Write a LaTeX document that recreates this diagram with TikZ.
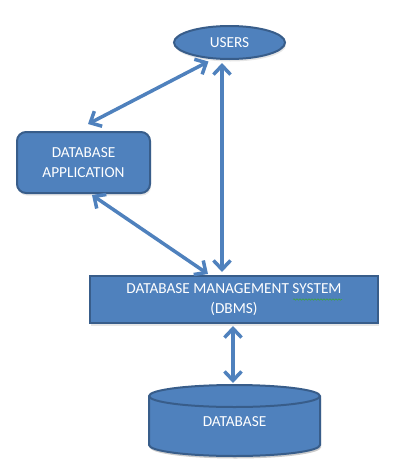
\documentclass[tikz,border=0pt]{standalone}
\usepackage{fontspec}
\setmainfont{Carlito}
\usetikzlibrary{arrows.meta,shapes.geometric,shadows,decorations.pathmorphing}
\definecolor{ofblue}{HTML}{4F81BD}
\definecolor{ofline}{HTML}{385D8A}
\definecolor{spellgreen}{HTML}{3FA33F}
\tikzset{
  box/.style={fill=ofblue, draw=ofline, line width=2pt, text=white,
    font=\fontsize{15.3}{20.5}\selectfont, align=center, inner sep=0pt,
    drop shadow={opacity=0.2, shadow xshift=1pt, shadow yshift=-2.5pt}},
  arr/.style={draw=ofblue, line width=3.5pt,
    {Straight Barb[length=9pt,width=17pt]}-{Straight Barb[length=9pt,width=17pt]}},
  lbl/.style={text=white, font=\fontsize{15.3}{20.5}\selectfont, align=center, inner sep=0pt}
}
\begin{document}
\begin{tikzpicture}[x=1pt,y=-1pt]
\useasboundingbox (0,0) rectangle (411,469);
% USERS
\node[box, ellipse, minimum width=111pt, minimum height=33pt] (users) at (229.5,42.5) {USERS};
% DATABASE APPLICATION
\node[box, rounded corners=9pt, minimum width=133pt, minimum height=61pt] (app) at (83.5,162.5) {DATABASE\\APPLICATION};
% DBMS
\node[box, minimum width=288pt, minimum height=47pt] (dbms) at (234,299.5) {DATABASE MANAGEMENT SYSTEM\\(DBMS)};
% spell-check underline
\draw[spellgreen, line width=0.6pt, decorate, decoration={snake, amplitude=0.7pt, segment length=3pt}] (293,299.5) -- (342,299.5);
% DATABASE cylinder
\fill[black, opacity=0.2] (150,398.5) -- (150,447.5) arc[start angle=180, end angle=360, x radius=85.5pt, y radius=11pt]
  -- (321,398.5) arc[start angle=0, end angle=180, x radius=85.5pt, y radius=11pt] -- cycle;
\filldraw[fill=ofblue, draw=ofline, line width=2pt]
  (149,396) -- (149,445) arc[start angle=180, end angle=360, x radius=85.5pt, y radius=11pt]
  -- (320,396) arc[start angle=0, end angle=180, x radius=85.5pt, y radius=11pt] -- cycle;
\draw[ofline, line width=2pt] (149,396) arc[start angle=180, end angle=360, x radius=85.5pt, y radius=11pt];
\node[lbl] (db) at (234.5,422) {DATABASE};
\coordinate (dbtop) at (233,383);
% connectors
\draw[arr] ([xshift=-21pt,yshift=-1.5pt]users.south) -- ([xshift=4.5pt,yshift=7pt]app.north);
\draw[arr] ([xshift=-7.5pt,yshift=-3pt]users.south) -- ([xshift=-12pt,yshift=3pt]dbms.north);
\draw[arr] ([xshift=8.5pt,yshift=-1pt]app.south) -- ([xshift=-26pt,yshift=1pt]dbms.north);
\draw[arr] ([xshift=-1pt,yshift=-2pt]dbms.south) -- (dbtop);
\end{tikzpicture}
\end{document}
